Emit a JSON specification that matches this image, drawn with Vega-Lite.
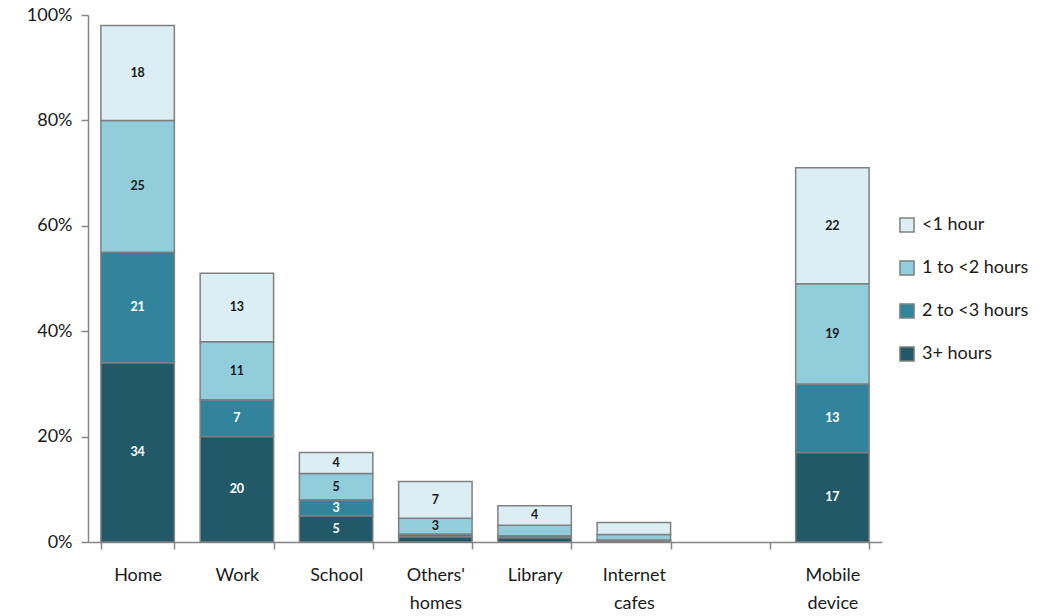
{
  "$schema": "https://vega.github.io/schema/vega-lite/v6.json",
  "width": 794,
  "height": 527,
  "autosize": {"type": "none"},
  "padding": {"left": 88, "top": 15, "right": 172, "bottom": 74},
  "background": "white",
  "config": {
    "view": {"stroke": null},
    "font": "Lato"
  },
  "data": {
    "values": [
      {"place": "Home", "hours": "3+ hours", "v": 34},
      {"place": "Home", "hours": "2 to <3 hours", "v": 21},
      {"place": "Home", "hours": "1 to <2 hours", "v": 25},
      {"place": "Home", "hours": "<1 hour", "v": 18},
      {"place": "Work", "hours": "3+ hours", "v": 20},
      {"place": "Work", "hours": "2 to <3 hours", "v": 7},
      {"place": "Work", "hours": "1 to <2 hours", "v": 11},
      {"place": "Work", "hours": "<1 hour", "v": 13},
      {"place": "School", "hours": "3+ hours", "v": 5},
      {"place": "School", "hours": "2 to <3 hours", "v": 3},
      {"place": "School", "hours": "1 to <2 hours", "v": 5},
      {"place": "School", "hours": "<1 hour", "v": 4},
      {"place": "Others' homes", "hours": "3+ hours", "v": 1},
      {"place": "Others' homes", "hours": "2 to <3 hours", "v": 0.5},
      {"place": "Others' homes", "hours": "1 to <2 hours", "v": 3},
      {"place": "Others' homes", "hours": "<1 hour", "v": 7},
      {"place": "Library", "hours": "3+ hours", "v": 0.8},
      {"place": "Library", "hours": "2 to <3 hours", "v": 0.4},
      {"place": "Library", "hours": "1 to <2 hours", "v": 2},
      {"place": "Library", "hours": "<1 hour", "v": 3.7},
      {"place": "Internet cafes", "hours": "3+ hours", "v": 0.2},
      {"place": "Internet cafes", "hours": "2 to <3 hours", "v": 0.2},
      {"place": "Internet cafes", "hours": "1 to <2 hours", "v": 1},
      {"place": "Internet cafes", "hours": "<1 hour", "v": 2.3},
      {"place": "Mobile device", "hours": "3+ hours", "v": 17},
      {"place": "Mobile device", "hours": "2 to <3 hours", "v": 13},
      {"place": "Mobile device", "hours": "1 to <2 hours", "v": 19},
      {"place": "Mobile device", "hours": "<1 hour", "v": 22}
    ]
  },
  "transform": [
    {"calculate": "indexof(['3+ hours','2 to <3 hours','1 to <2 hours','<1 hour'], datum.hours)", "as": "ord"},
    {"stack": "v", "groupby": ["place"], "sort": [{"field": "ord", "order": "ascending"}], "as": ["y0", "y1"]},
    {"calculate": "(datum.y0 + datum.y1) / 2", "as": "ymid"}
  ],
  "encoding": {
    "x": {
      "field": "place",
      "type": "nominal",
      "scale": {
        "domain": ["Home", "Work", "School", "Others' homes", "Library", "Internet cafes", " ", "Mobile device"],
        "paddingInner": 0.26,
        "paddingOuter": 0.13
      },
      "axis": {
        "title": null,
        "labelAngle": 0,
        "labelExpr": "split(datum.label, ' ')",
        "labelFontSize": 18,
        "labelColor": "#1a1a1a",
        "labelLineHeight": 28,
        "labelPadding": 17,
        "tickBand": "extent",
        "tickSize": 7,
        "tickColor": "#868686",
        "domainColor": "#868686",
        "domainWidth": 1.5,
        "tickWidth": 1.5
      }
    }
  },
  "layer": [
    {
      "mark": {"type": "bar", "stroke": "#808080", "strokeWidth": 1.5},
      "encoding": {
        "y": {
          "field": "y0",
          "type": "quantitative",
          "scale": {"domain": [0, 100]},
          "axis": {
            "title": null,
            "values": [0, 20, 40, 60, 80, 100],
            "labelExpr": "datum.value + '%'",
            "labelFontSize": 18,
            "labelColor": "#1a1a1a",
            "labelPadding": 9,
            "tickSize": 7,
            "tickColor": "#868686",
            "domainColor": "#868686",
            "domainWidth": 1.5,
            "tickWidth": 1.5,
            "grid": false
          }
        },
        "y2": {"field": "y1"},
        "color": {
          "field": "hours",
          "type": "nominal",
          "scale": {
            "domain": ["<1 hour", "1 to <2 hours", "2 to <3 hours", "3+ hours"],
            "range": ["#DAEEF3", "#92CDDC", "#31849B", "#215968"]
          },
          "legend": {
            "title": null,
            "orient": "none",
            "legendX": 810,
            "legendY": 201,
            "symbolType": "square",
            "symbolSize": 200,
            "symbolStrokeColor": "#808080",
            "symbolStrokeWidth": 1.5,
            "labelFontSize": 18,
            "labelColor": "#1a1a1a",
            "rowPadding": 21,
            "labelOffset": 6
          }
        }
      }
    },
    {
      "transform": [{"filter": "datum.v >= 2.5"}],
      "mark": {"type": "text", "fontSize": 12.5, "fontWeight": "bold"},
      "encoding": {
        "y": {"field": "ymid", "type": "quantitative"},
        "text": {"field": "v", "type": "quantitative", "format": ".0f"},
        "color": {
          "condition": {"test": "datum.ord <= 1", "value": "white"},
          "value": "#1a1a1a"
        }
      }
    }
  ]
}
